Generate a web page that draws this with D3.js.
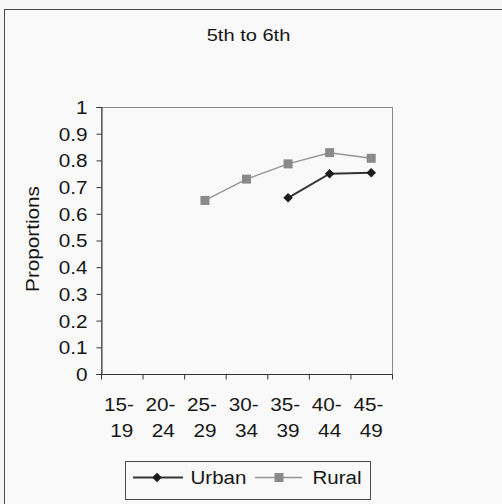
<!DOCTYPE html>
<html>
<head>
<meta charset="utf-8">
<script src="https://cdn.jsdelivr.net/npm/d3@7"></script>
<style>
  html, body { margin: 0; padding: 0; background: #f6f6f6; }
  svg { display: block; }
  text { font-family: "Liberation Sans", Arial, sans-serif; fill: #161616; }
</style>
</head>
<body>
<svg id="chart" width="502" height="504"></svg>
<script>
// Age groups (two-line labels) and series proportions
const ageTop = ["15-", "20-", "25-", "30-", "35-", "40-", "45-"];
const ageBottom = ["19", "24", "29", "34", "39", "44", "49"];
const urban = [null, null, null, null, 0.66, 0.75, 0.754];
const rural = [null, null, 0.65, 0.73, 0.787, 0.829, 0.808];
const yTicks = [0, 0.1, 0.2, 0.3, 0.4, 0.5, 0.6, 0.7, 0.8, 0.9, 1];
const seriesNames = ["Urban", "Rural"];

const svg = d3.select("#chart");
const plot = { left: 101, top: 107, right: 392, bottom: 374 };
const FONT = 18.5, STRETCH = 1.12;

// text drawn slightly wide, the way the labels are set in this chart
function label(parent, x, y, str, opts = {}) {
  const size = opts.size || FONT, sx = opts.sx || STRETCH;
  return parent.append("text")
    .attr("transform", `translate(${x},${y})${opts.rotate ? ` rotate(${opts.rotate})` : ""} scale(${sx},1)`)
    .attr("text-anchor", opts.anchor || "start")
    .attr("font-size", size)
    .text(str);
}

// chart frame (runs off the right and bottom edges)
svg.append("rect").attr("x", 4.5).attr("y", 9.5).attr("width", 520).attr("height", 520)
  .attr("fill", "#f9f9f9").attr("stroke", "#4a4a4a").attr("stroke-width", 1);

// title
label(svg, 248.5, 41, "5th to 6th", { anchor: "middle", size: 17, sx: 1.18 });

const x = d3.scaleBand().domain(d3.range(ageTop.length)).range([plot.left, plot.right]);
const y = d3.scaleLinear().domain([0, 1]).range([plot.bottom, plot.top]);

// plot area frame
svg.append("rect").attr("x", plot.left + 0.5).attr("y", plot.top + 0.5)
  .attr("width", plot.right - plot.left).attr("height", plot.bottom - plot.top)
  .attr("fill", "none").attr("stroke", "#8a8a8a").attr("stroke-width", 1);

// y axis
const yAxis = d3.axisLeft(y).tickValues(yTicks).tickSize(5).tickPadding(8)
  .tickFormat(d => d === 0 || d === 1 ? d3.format("d")(d) : d3.format(".1f")(d));
const gy = svg.append("g").attr("transform", `translate(${plot.left + 0.5},0)`).call(yAxis);
gy.select(".domain").attr("stroke", "#333");
gy.selectAll(".tick line").attr("stroke", "#333");
gy.selectAll(".tick text")
  .attr("x", null).attr("dy", "0.35em")
  .attr("transform", `translate(-14,0) scale(${STRETCH},1)`)
  .attr("font-size", FONT).attr("fill", "#161616")
  .attr("font-family", '"Liberation Sans", Arial, sans-serif');

// x axis: ticks at category boundaries
const gx = svg.append("g").attr("transform", `translate(0,${plot.bottom + 0.5})`);
gx.append("line").attr("x1", plot.left).attr("x2", plot.right + 0.5).attr("stroke", "#333");
const bounds = d3.range(ageTop.length + 1).map(i => i < ageTop.length ? x(i) : x(ageTop.length - 1) + x.bandwidth());
gx.selectAll("line.tk").data(bounds).join("line").attr("class", "tk")
  .attr("x1", d => d + 0.5).attr("x2", d => d + 0.5).attr("y1", 0).attr("y2", 5).attr("stroke", "#333");
d3.range(ageTop.length).forEach(i => {
  const c = x(i) + x.bandwidth() / 2;
  // first line keeps its trailing space from the wrapped label
  label(gx, c, 36.5, ageTop[i] + "\u00a0", { anchor: "middle" });
  label(gx, c, 62.5, ageBottom[i], { anchor: "middle" });
});

// y axis title
label(svg, 38.5, 239, "Proportions", { anchor: "middle", rotate: -90 });

const cx = i => x(i) + x.bandwidth() / 2;
const line = d3.line().defined(d => d != null).x((d, i) => cx(i)).y(d => y(d));
const diamond = d3.symbol().type(d3.symbolDiamond2).size(58);

const RURAL_LINE = "#959595", RURAL_MARK = "#8a8a8a", URBAN_LINE = "#353535", URBAN_MARK = "#1c1c1c";

// rural series
svg.append("path").datum(rural).attr("d", line).attr("fill", "none")
  .attr("stroke", RURAL_LINE).attr("stroke-width", 1.5);
svg.selectAll("rect.rural").data(rural.map((v, i) => ({ v, i })).filter(d => d.v != null))
  .join("rect").attr("class", "rural")
  .attr("x", d => cx(d.i) - 4.5).attr("y", d => y(d.v) - 4.5)
  .attr("width", 9).attr("height", 9).attr("fill", RURAL_MARK);

// urban series
svg.append("path").datum(urban).attr("d", line).attr("fill", "none")
  .attr("stroke", URBAN_LINE).attr("stroke-width", 2);
svg.selectAll("path.urban").data(urban.map((v, i) => ({ v, i })).filter(d => d.v != null))
  .join("path").attr("class", "urban")
  .attr("transform", d => `translate(${cx(d.i)},${y(d.v)})`)
  .attr("d", diamond).attr("fill", URBAN_MARK);

// legend
const lg = svg.append("g");
lg.append("rect").attr("x", 125.5).attr("y", 461.5).attr("width", 245).attr("height", 38)
  .attr("fill", "#f9f9f9").attr("stroke", "#4a4a4a");
const ly = 477.5;
lg.append("line").attr("x1", 133).attr("x2", 183).attr("y1", ly).attr("y2", ly)
  .attr("stroke", URBAN_LINE).attr("stroke-width", 2);
lg.append("path").attr("transform", `translate(157,${ly})`).attr("d", diamond).attr("fill", URBAN_MARK);
label(lg, 190.5, 484, seriesNames[0], { size: 19, sx: 1.08 });
lg.append("line").attr("x1", 255).attr("x2", 302).attr("y1", ly).attr("y2", ly)
  .attr("stroke", RURAL_LINE).attr("stroke-width", 1.5);
lg.append("rect").attr("x", 279 - 4.5).attr("y", ly - 4.5).attr("width", 9).attr("height", 9).attr("fill", RURAL_MARK);
label(lg, 312.5, 484, seriesNames[1], { size: 19, sx: 1.08 });
</script>
</body>
</html>
